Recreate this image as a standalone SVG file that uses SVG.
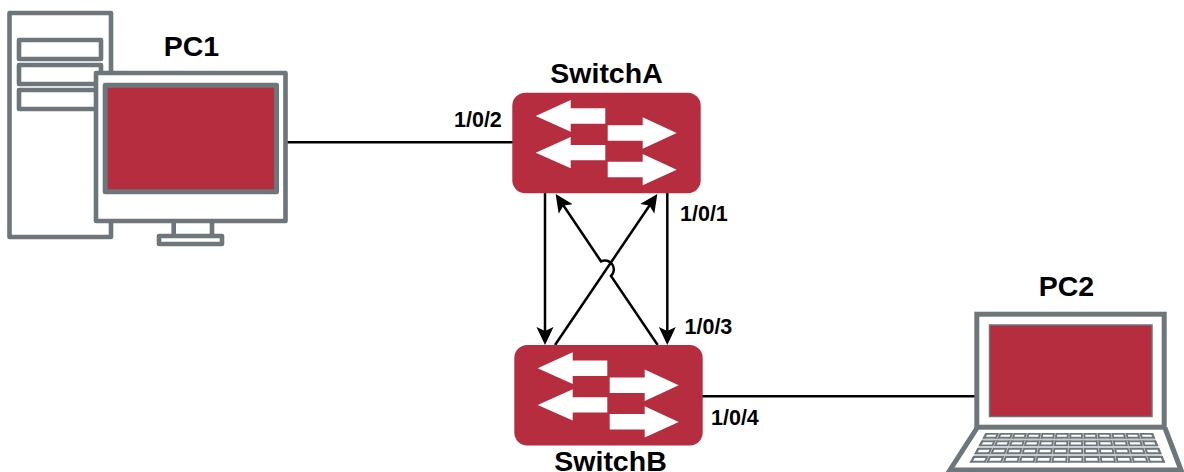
<svg xmlns="http://www.w3.org/2000/svg" width="1184" height="472" viewBox="0 0 1184 472">
<style>
.g{fill:#fff;stroke:#6d767b;stroke-width:4.6;stroke-linejoin:round}
.s{fill:#b52d3e;stroke:#6d767b;stroke-width:5;stroke-linejoin:round}
.sw{fill:#b52d3e}
.a{fill:#fff}
.c{fill:none;stroke:#000;stroke-width:2.5}
.e{marker-end:url(#h)}
text{font-family:"Liberation Sans",Arial,sans-serif;font-weight:bold;fill:#000}
.n{font-size:28.5px;text-anchor:middle}
.p{font-size:21.5px}
</style>
<defs>
<marker id="h" markerUnits="userSpaceOnUse" markerWidth="20" markerHeight="20" refX="14" refY="9" orient="auto"><path d="M18,9L0,.5L4,9L0,17.5Z" fill="#000"/></marker>
<clipPath id="tz"><path d="M985.5,433L969.5,463H1165.4L1152.9,433Z"/></clipPath>
<clipPath id="rows"><rect x="960" y="433" width="220" height="5.5"/><rect x="960" y="440.5" width="220" height="5.5"/><rect x="960" y="448" width="220" height="6"/><rect x="960" y="456" width="220" height="6.5"/></clipPath>
<g id="sym"><rect class="sw" x="512.3" y="92.7" width="188.4" height="100.6" rx="13"/>
<path class="a" d="M535.7,116L570.7,100V108.3H605.3V123.7H570.7V131.7Z"/>
<path class="a" d="M676.7,133L642.7,117.3V125.3H607.7V140.7H642.7V148.7Z"/>
<path class="a" d="M535.7,152.7L570.7,137V145H605.3V160.3H570.7V168.3Z"/>
<path class="a" d="M676.7,169.7L642.7,154V161.7H607.7V177.3H642.7V185.3Z"/></g>
</defs>
<rect width="1184" height="472" fill="#fff"/>
<g id="connectors">
<path class="c" d="M287,142.3H513"/>
<path class="c" d="M702,396.3H976"/>
<path class="c e" d="M545,193V341"/>
<path class="c e" d="M667.3,193V341"/>
<path class="c e" d="M555,345L655.1,197.3"/>
<path class="c e" d="M657.7,345L611,276A9,9 0 0 0 601,261.3L557.9,197.3"/>
</g>
<g id="pc1">
<rect class="g" x="9.5" y="13" width="101.5" height="224"/>
<rect class="g" x="19" y="40" width="82" height="19"/>
<rect class="g" x="19" y="65" width="82" height="19"/>
<rect class="g" x="19" y="90" width="82" height="19"/>
<path class="g" d="M173.7,221V236M212,221V236"/>
<rect class="g" x="159" y="236" width="63" height="8"/>
<rect class="g" x="96" y="73" width="189.5" height="148"/>
<rect class="s" x="105.2" y="85.2" width="171.3" height="106.6"/>
<text class="n" x="191.5" y="56">PC1</text>
</g>
<g id="switchA"><use href="#sym"/><text class="n" x="606.5" y="83">SwitchA</text></g>
<g id="switchB"><use href="#sym" x="2" y="252.3"/><text class="n" x="610.5" y="471">SwitchB</text></g>
<g id="pc2">
<path fill="none" stroke="#6d767b" stroke-width="5" d="M977,428L950,470H1181L1165,428"/>
<rect fill="#fff" stroke="#6d767b" stroke-width="5" x="976.8" y="314.2" width="187.4" height="113"/>
<rect fill="#b52d3e" stroke="#6d767b" stroke-width="1.5" x="989.5" y="325" width="162.5" height="91.5"/>
<g clip-path="url(#tz)">
<rect x="960" y="433" width="220" height="30" fill="#c9cdcf"/>
<g clip-path="url(#rows)">
<rect x="960" y="433" width="220" height="30" fill="#6d767b"/>
<path fill="#fff" d="M960,434.8h220v2H960zM960,442.3h220v2.1H960zM960,449.8h220v2.5H960zM960,457.9h220v2.8H960z"/>
<path fill="none" stroke="#6d767b" stroke-width="4.4" d="M985.5,433L969.5,463M999.45,433L985.83,463M1013.4,433L1002.15,463M1027.35,433L1018.48,463M1041.3,433L1034.8,463M1055.25,433L1051.13,463M1069.2,433L1067.45,463M1083.15,433L1083.78,463M1097.1,433L1100.1,463M1111.05,433L1116.43,463M1125,433L1132.75,463M1138.95,433L1149.08,463M1152.9,433L1165.4,463"/>
<path fill="none" stroke="#dfe1e2" stroke-width=".7" d="M999.45,433L985.83,463M1013.4,433L1002.15,463M1027.35,433L1018.48,463M1041.3,433L1034.8,463M1055.25,433L1051.13,463M1069.2,433L1067.45,463M1083.15,433L1083.78,463M1097.1,433L1100.1,463M1111.05,433L1116.43,463M1125,433L1132.75,463M1138.95,433L1149.08,463"/>
</g></g>
<text class="n" x="1066.5" y="296">PC2</text>
</g>
<text class="p" x="454" y="127">1/0/2</text>
<text class="p" x="680" y="221">1/0/1</text>
<text class="p" x="684.5" y="334">1/0/3</text>
<text class="p" x="711" y="425">1/0/4</text>
</svg>
